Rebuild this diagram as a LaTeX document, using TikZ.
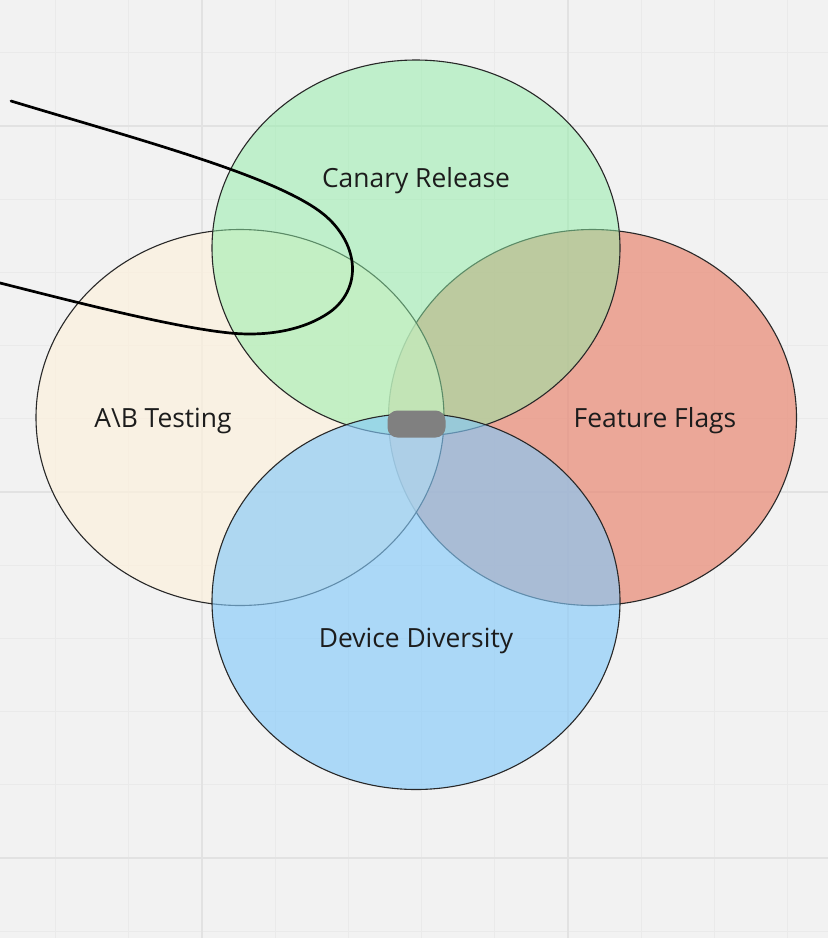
\documentclass[tikz,border=0pt]{standalone}
\usepackage{fontspec}
\setmainfont{Open Sans}
\usetikzlibrary{shapes.geometric}
\definecolor{bgc}{RGB}{242,242,242}
\definecolor{gridminor}{RGB}{234,234,234}
\definecolor{gridmajor}{RGB}{226,226,226}
\definecolor{beigec}{RGB}{253,241,221}
\definecolor{redc}{RGB}{233,136,115}
\definecolor{greenc}{RGB}{142,238,166}
\definecolor{bluec}{RGB}{131,201,250}
\definecolor{edgec}{RGB}{40,40,40}
\definecolor{textc}{RGB}{28,28,28}
\definecolor{blobc}{RGB}{128,128,128}
\tikzset{
  venn/.style={ellipse, draw=edgec, line width=1.1pt, inner sep=0pt,
    minimum width=408pt, minimum height=376pt},
  lbl/.style={font=\fontsize{26.4}{31}\selectfont, text=textc, inner sep=0pt},
}
\begin{document}
\begin{tikzpicture}[x=1pt,y=-1pt]
\useasboundingbox (0,0) rectangle (828,938);
\fill[bgc] (0,0) rectangle (828,938);
% grid
\foreach \i in {0,...,11} {
  \draw[gridminor, line width=1pt] ({55.6+73.2*\i},0) -- ({55.6+73.2*\i},938);
}
\foreach \i in {0,...,12} {
  \draw[gridminor, line width=1pt] (0,{52.8+73.2*\i}) -- (828,{52.8+73.2*\i});
}
\foreach \x in {202,568} \draw[gridmajor, line width=2pt] (\x,0) -- (\x,938);
\foreach \y in {126,492,858} \draw[gridmajor, line width=2pt] (0,\y) -- (828,\y);
% ellipses
\node[venn, fill=redc, fill opacity=0.7] (flags) at (592.5,417.5) {};
\node[venn, fill=beigec, fill opacity=0.7] (abtest) at (240,417.5) {};
\node[venn, fill=greenc, fill opacity=0.5] (canary) at (416,248) {};
\node[venn, fill=bluec, fill opacity=0.63] (device) at (416,601.5) {};
% labels
\node[lbl] (tcanary) at (416,181) {Canary Release};
\node[lbl] (tab) at (163,421) {A\textbackslash B Testing};
\node[lbl] (tflags) at (655,421) {Feature Flags};
\node[lbl] (tdevice) at (416,641) {Device Diversity};
% freehand curve
\draw[black, line width=2.7pt, line cap=round, line join=round]
  (11,101) .. controls (150,143) and (290,180) .. (330,220)
  .. controls (360,250) and (360,290) .. (330,312)
  .. controls (300,333) and (260,336) .. (230,333)
  .. controls (170,327) and (60,298) .. (0,283);
% marker blob
\node[fill=blobc, rounded corners=10pt, minimum width=58pt, minimum height=27pt, inner sep=0pt] (blob) at (416.5,424) {};
\end{tikzpicture}
\end{document}
